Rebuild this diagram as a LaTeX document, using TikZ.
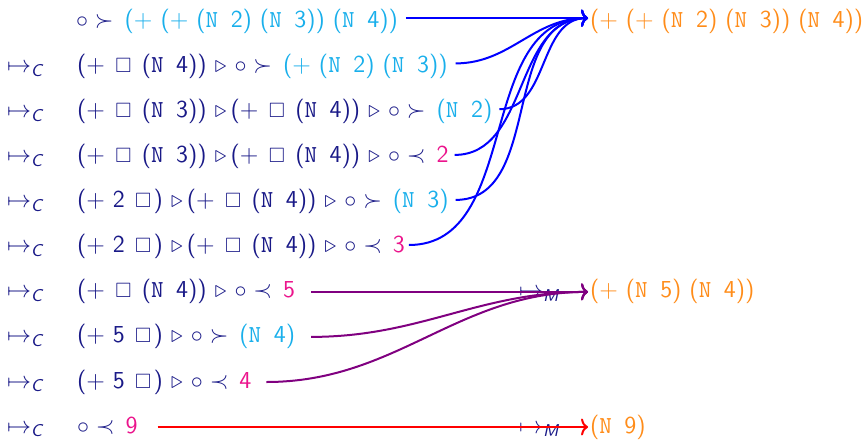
\documentclass[tikz,border=0pt]{standalone}
\usepackage{amsmath,amssymb}
\usepackage{graphicx,calc}
\usetikzlibrary{arrows.meta}
\definecolor{navy}{RGB}{25,25,135}
\definecolor{cy}{RGB}{25,175,235}
\definecolor{mg}{RGB}{235,20,140}
\definecolor{org}{RGB}{255,140,25}
\definecolor{pur}{RGB}{128,0,128}
\newcommand\myN[1]{(\texttt{N\ }#1)}
\newcommand\myH{\makebox[\widthof{$\square$}+1pt]{\scalebox{0.85}{$\square$}}}
\newcommand\myT{\kern4pt$\triangleright$\kern2pt}
\newcommand\myS{$\circ$\kern3.5pt$\succ$\kern5.5pt}
\newcommand\myP{$\circ$\kern3.5pt$\prec$\kern5.5pt}
\newcommand\mapC{$\mapsto_{\text{\sffamily\itshape C}}$}
\newcommand\mapM{$\mapsto_{\text{\sffamily\itshape M}}$}
\begin{document}
\begin{tikzpicture}[x=0.5pt,y=-0.5pt,
  every node/.style={inner sep=0pt,outer sep=0pt,anchor=base west,
    font=\fontsize{12.2}{14}\selectfont\sffamily},
  lab/.style={text=navy},
  tgt/.style={text=org,inner xsep=1pt},
  conn/.style={line width=1pt,-{To[length=3.5pt,width=8.5pt]}}]
\useasboundingbox (0,0) rectangle (867,439);
% rows
\node[lab] (r1) at (76,27.5) {\myS{\color{cy}(+ (+ \myN{2} \myN{3}) \myN{4})}};
\node[lab] (m2) at (7,72.6) {\mapC};
\node[lab] (r2) at (77,72.6) {(+ \myH{} \myN{4})\myT\kern2pt\myS{\color{cy}(+ \myN{2} \myN{3})}};
\node[lab] (m3) at (7,117.6) {\mapC};
\node[lab] (r3) at (77,117.6) {(+ \myH{} \myN{3})\myT(+ \myH{} \myN{4})\myT\kern2pt\myS{\color{cy}\myN{2}}};
\node[lab] (m4) at (7,162.7) {\mapC};
\node[lab] (r4) at (77,162.7) {(+ \myH{} \myN{3})\myT(+ \myH{} \myN{4})\myT\kern2pt\myP{\color{mg}2}};
\node[lab] (m5) at (7,207.7) {\mapC};
\node[lab] (r5) at (77,207.7) {(+ 2 \myH)\myT(+ \myH{} \myN{4})\myT\kern2pt\myS{\color{cy}\myN{3}}};
\node[lab] (m6) at (7,252.8) {\mapC};
\node[lab] (r6) at (77,252.8) {(+ 2 \myH)\myT(+ \myH{} \myN{4})\myT\kern2pt\myP{\color{mg}3}};
\node[lab] (m7) at (7,297.9) {\mapC};
\node[lab] (r7) at (77,297.9) {(+ \myH{} \myN{4})\myT\kern2pt\myP{\color{mg}5}};
\node[lab] (m8) at (7,342.9) {\mapC};
\node[lab] (r8) at (77,342.9) {(+ 5 \myH)\myT\kern2pt\myS{\color{cy}\myN{4}}};
\node[lab] (m9) at (7,388) {\mapC};
\node[lab] (r9) at (77,388) {(+ 5 \myH)\myT\kern2pt\myP{\color{mg}4}};
\node[lab] (m10) at (7,433) {\mapC};
\node[lab] (r10) at (77,433) {\myP{\color{mg}9}};
% targets
\node[tgt] (t1) at (588,27.5) {(+ (+ \myN{2} \myN{3}) \myN{4})};
\node[tgt] (t2) at (588,297.9) {(+ \myN{5} \myN{4})};
\node[tgt] (t3) at (588,433) {\myN{9}};
% M labels
\node[lab] (mm1) at (519,297.9) {\mapM};
\node[lab] (mm2) at (519,433) {\mapM};
% connectors
\coordinate (e1) at ([yshift=4.7pt]t1.base west);
\coordinate (e2) at ([yshift=3pt]t2.base west);
\coordinate (e3) at ([yshift=3pt]t3.base west);
\draw[conn,blue] ([xshift=4pt,yshift=4.7pt]r1.base east) -- (e1);
\draw[conn,blue] ([xshift=4pt,yshift=4.6pt]r2.base east) to[out=0,in=180] (e1);
\draw[conn,blue] ([xshift=3.5pt,yshift=4.2pt]r3.base east) to[out=0,in=180] (e1);
\draw[conn,blue] ([xshift=3pt,yshift=3.9pt]r4.base east) to[out=0,in=180] (e1);
\draw[conn,blue] ([xshift=3.5pt,yshift=3.9pt]r5.base east) to[out=0,in=180] (e1);
\draw[conn,blue] ([xshift=2pt,yshift=3.9pt]r6.base east) to[out=0,in=180] (e1);
\draw[conn,pur] ([xshift=8pt,yshift=3pt]r7.base east) -- (e2);
\draw[conn,pur] ([xshift=8pt,yshift=3pt]r8.base east) to[out=0,in=180] (e2);
\draw[conn,pur] ([xshift=7.5pt,yshift=3pt]r9.base east) to[out=0,in=180] (e2);
\draw[conn,red] ([xshift=10pt,yshift=3pt]r10.base east) -- (e3);
\end{tikzpicture}
\end{document}
